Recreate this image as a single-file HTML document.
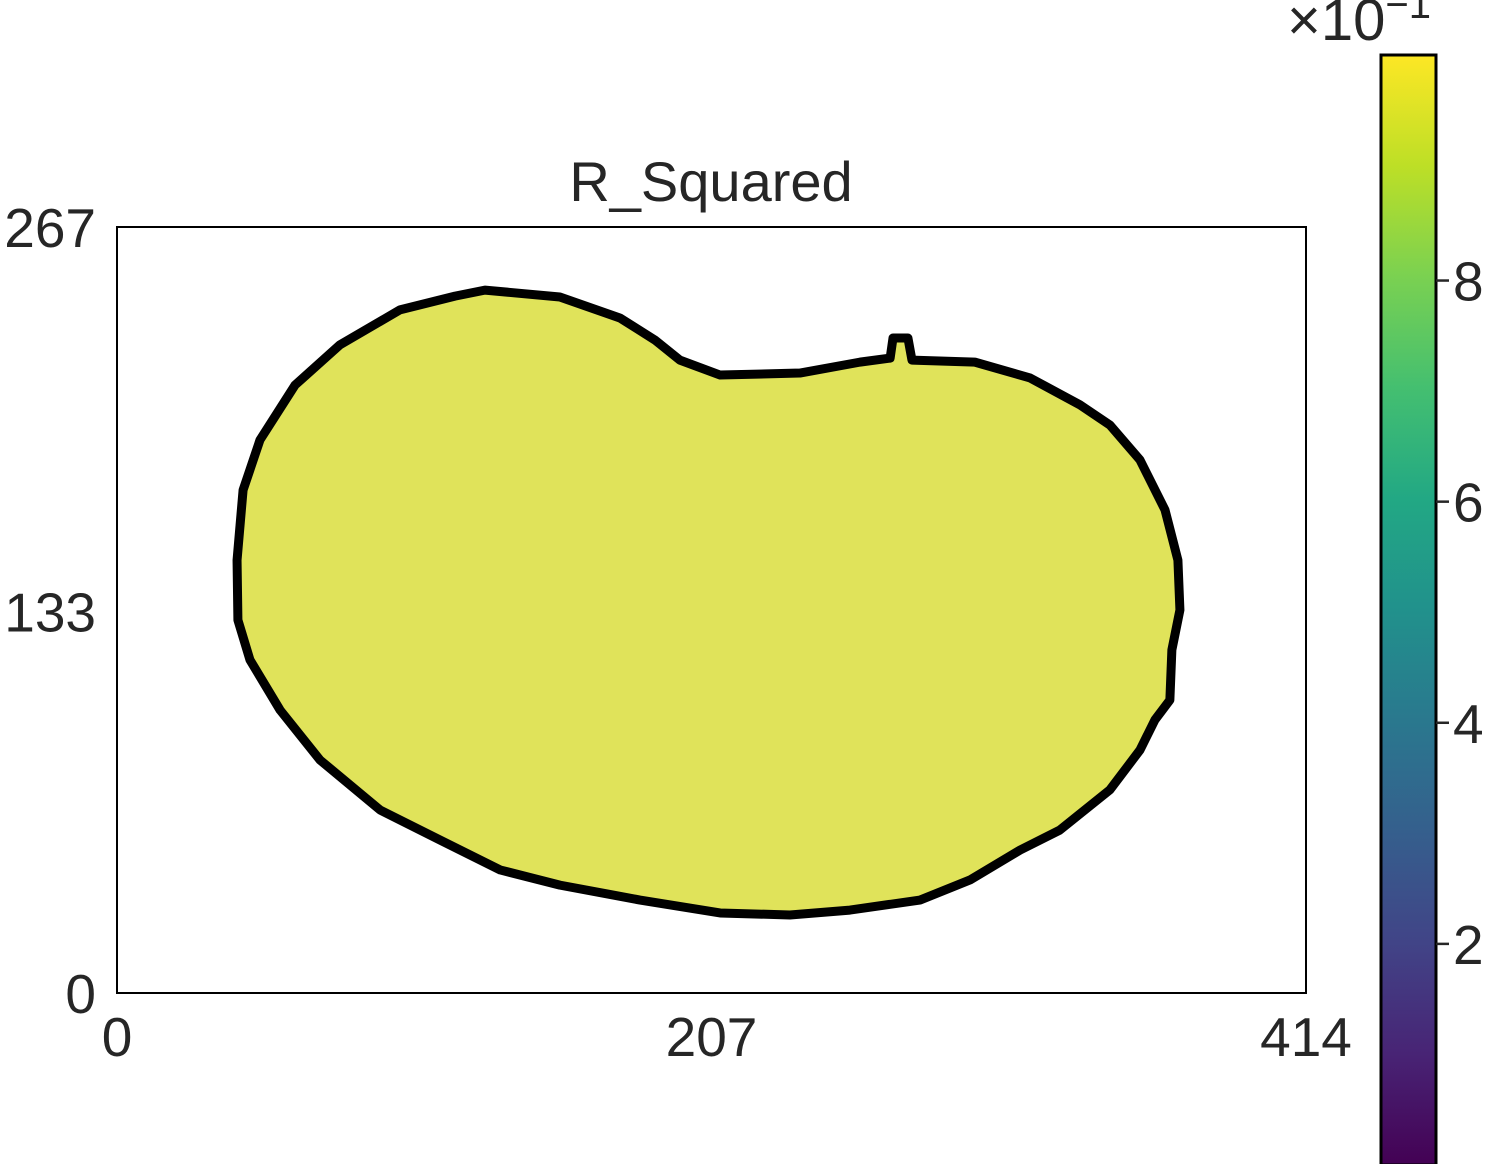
<!DOCTYPE html>
<html><head><meta charset="utf-8">
<style>
html,body{margin:0;padding:0;background:#fff;}
body{width:1487px;height:1164px;overflow:hidden;position:relative;}
svg text{font-family:"Liberation Sans",sans-serif;fill:#262626;}
</style></head>
<body>
<svg id="chart" width="1487" height="1164" viewBox="0 0 1487 1164" xmlns="http://www.w3.org/2000/svg">
<defs>
<linearGradient id="viridis" x1="0" y1="1" x2="0" y2="0">
<stop offset="0" stop-color="#440154"/>
<stop offset="0.1" stop-color="#482475"/>
<stop offset="0.2" stop-color="#414487"/>
<stop offset="0.3" stop-color="#355f8d"/>
<stop offset="0.4" stop-color="#2a788e"/>
<stop offset="0.5" stop-color="#21918c"/>
<stop offset="0.6" stop-color="#22a884"/>
<stop offset="0.7" stop-color="#44bf70"/>
<stop offset="0.8" stop-color="#7ad151"/>
<stop offset="0.9" stop-color="#bddf26"/>
<stop offset="1" stop-color="#fde725"/>
</linearGradient>
</defs>
<text x="711" y="201" font-size="56" text-anchor="middle">R_Squared</text>
<g id="plot"></g>
<rect x="117" y="227" width="1189" height="766" fill="none" stroke="#000" stroke-width="2"/>
<g id="axes"></g>
<rect x="1381" y="55" width="55" height="1110" fill="url(#viridis)" stroke="#000" stroke-width="3"/>
<g id="cbticks"></g>
<text x="1287" y="40" font-size="58">×10<tspan font-size="40" dy="-22">−1</tspan></text>
</svg>
<script>
// outline of the region (data units)
const outlineX = [128.1,154.2,175.1,187.3,196.0,210.0,237.8,258.7,269.2,270.2,275.4,276.8,298.7,317.9,335.3,345.7,356.2,364.9,369.4,370.1,367.3,366.6,361.4,356.2,345.7,328.3,314.4,297.0,279.6,255.2,234.3,210.0,182.1,154.2,133.4,112.5,91.6,70.7,56.8,46.3,42.1,41.8,43.9,49.8,62.0,77.6,98.5,117.7];
const outlineY = [245.0,242.6,235.3,227.6,220.6,215.4,216.1,219.9,221.3,228.3,228.3,220.6,219.9,214.4,205.0,198.0,185.8,168.4,150.9,133.5,119.6,102.1,95.2,84.7,70.8,56.8,49.8,39.4,32.4,28.9,27.2,27.9,32.4,37.6,42.9,53.3,63.8,81.2,98.6,116.1,130.0,150.9,175.3,192.8,211.9,225.9,238.1,242.9];
const xTicks = [0,207,414];
const yTicks = [0,133,267];
const cbTicks = [2,4,6,8];
const cbMin = 0, cbMax = 10.04;

const X0=117,X1=1306,Y0=993,Y1=227;
const xScale = v => X0 + (v/414)*(X1-X0);
const yScale = v => Y0 - (v/267)*(Y0-Y1);
const cbScale = v => 1165 - (v-cbMin)/(cbMax-cbMin)*(1165-55);
const NS="http://www.w3.org/2000/svg";

const plot=document.getElementById('plot');
const blob=document.createElementNS(NS,'polygon');
blob.setAttribute('points', outlineX.map((x,i)=>xScale(x)+','+yScale(outlineY[i])).join(' '));
blob.setAttribute('fill','#e0e35a');
blob.setAttribute('stroke','#000');
blob.setAttribute('stroke-width','9');
blob.setAttribute('stroke-linejoin','round');


plot.appendChild(blob);

const axes=document.getElementById('axes');
xTicks.forEach(v=>{
  const t=document.createElementNS(NS,'text');
  t.setAttribute('x',xScale(v)); t.setAttribute('y',1056);
  t.setAttribute('font-size','55'); t.setAttribute('text-anchor','middle');
  t.textContent=v;
  
  
  axes.appendChild(t);
});
yTicks.forEach(v=>{
  const t=document.createElementNS(NS,'text');
  t.setAttribute('x',96); t.setAttribute('y',yScale(v)+20);
  t.setAttribute('font-size','55'); t.setAttribute('text-anchor','end');
  t.textContent=v;
  
  
  axes.appendChild(t);
});
const cbg=document.getElementById('cbticks');
cbTicks.forEach(v=>{
  const y=cbScale(v);
  const l=document.createElementNS(NS,'line');
  l.setAttribute('x1',1436); l.setAttribute('x2',1449);
  l.setAttribute('y1',y); l.setAttribute('y2',y);
  l.setAttribute('stroke','#262626'); l.setAttribute('stroke-width','2.5');
  
  
  cbg.appendChild(l);
  const t=document.createElementNS(NS,'text');
  t.setAttribute('x',1453); t.setAttribute('y',y+20);
  t.setAttribute('font-size','55');
  t.textContent=v;
  
  
  cbg.appendChild(t);
});
</script>
</body></html>
